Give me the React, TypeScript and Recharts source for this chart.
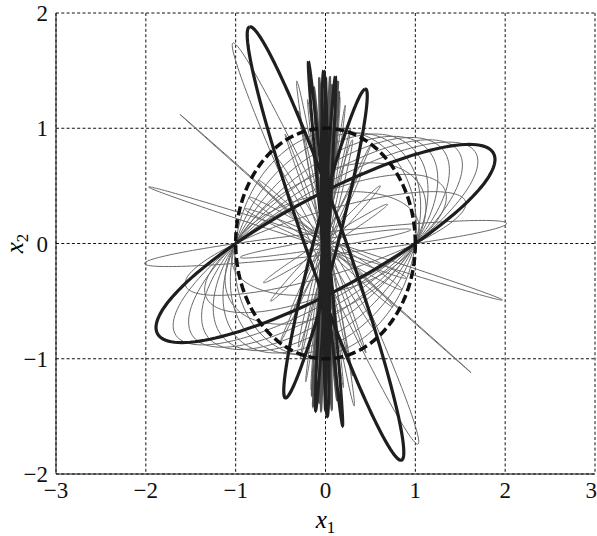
import { LineChart, Line, XAxis, YAxis, CartesianGrid, Label } from "recharts";

const xTicks = [-3, -2, -1, 0, 1, 2, 3];
const yTicks = [-2, -1, 0, 1, 2];

// every orbit is a centred ellipse: [px, py, qx, qy] = two conjugate half-diameters
const initialSet = [[1, 0, 0, 1]];

const thickOrbits = [
    [1, 0, 1.6, 0.86],
    [-0.846, 1.88, 0.21, 0.057],
    [0.44, 1.34, 0.15, 0.035],
];

const darkSpikes = [
    [-0.19, 1.58, 0.03, 0],
    [-0.02, 1.5, 0.04, 0],
    [0.11, 1.45, 0.03, 0],
    [0.0, 1.44, 0.015, 0],
];

const graySpikes = [
    [0.07, 1.38, 0.025, 0],
    [-0.07, 1.44, 0.02, 0],
    [0.15, 1.32, 0.025, 0],
    [-0.13, 1.36, 0.025, 0],
    [0.0, 1.25, 0.04, 0],
    [0.14, 1.41, 0.015, 0],
    [0.05, 1.45, 0.015, 0],
];

const fanOrbits = [
    [1, 0, 0.15, 0.98],
    [1, 0, 0.35, 0.96],
    [1, 0, 0.55, 0.95],
    [1, 0, 0.75, 0.93],
    [1, 0, 0.95, 0.92],
    [1, 0, 1.15, 0.9],
    [1, 0, 1.37, 0.88],
    [1, 0, 0.9, 0.6],
    [1, 0, 0.5, 0.7],
    [1, 0, 1.2, 0.45],
    [1, 0, 0.3, 0.45],
];

const thinSpikes = [
    [-1.03, 1.74, 0.13, 0.05],
    [-1.62, 1.12, 0.034, -0.03],
    [-1.97, 0.49, 0.015, -0.038],
    [1, 0, 1.75, 0.2],
    [-0.32, 1.41, 0.04, 0.01],
    [0.16, 1.27, 0.03, 0],
];

const spokes = [
    [0.69, 0.34, 0.02, -0.03],
    [0.61, 0.5, 0.02, -0.03],
    [0.4, 0.62, 0.03, -0.02],
    [-0.75, 0.55, 0.02, 0.03],
    [-0.55, 0.75, 0.03, 0.02],
    [-0.9, 0.3, 0.01, 0.04],
    [0.85, -0.4, 0.02, 0.04],
    [0.95, 0.12, 0.0, 0.04],
    [0.3, 0.9, 0.04, 0],
    [-0.3, 1.15, 0.02, 0],
    [0.28, 1.0, 0.02, 0],
    [-0.45, 0.95, 0.02, 0.01],
    [0.5, 0.85, 0.02, -0.01],
    [-0.2, 1.25, 0.02, 0],
    [0.22, 1.2, 0.02, 0],
];

const STEPS = 144;

const trace = (e: number[]) =>
    Array.from({ length: STEPS + 1 }, (_, i) => {
        const t = (i / STEPS) * Math.PI * 2;
        return { x: e[0] * Math.cos(t) + e[2] * Math.sin(t), y: e[1] * Math.cos(t) + e[3] * Math.sin(t) };
    });

const minus = (v: number) => (v < 0 ? `\u2212${-v}` : `${v}`);

const SERIF = "'Liberation Serif', 'Times New Roman', Times, Tinos, serif";
const tickFont = { fontFamily: SERIF, fontSize: 23, fill: "#111" };

const groups = [
    { name: "fan", list: fanOrbits, stroke: "#6a6a6a", width: 1, dash: undefined },
    { name: "spoke", list: spokes, stroke: "#6a6a6a", width: 1, dash: undefined },
    { name: "thin", list: thinSpikes, stroke: "#6a6a6a", width: 1, dash: undefined },
    { name: "gray", list: graySpikes, stroke: "#555", width: 2, dash: undefined },
    { name: "thick", list: thickOrbits, stroke: "#1e1e1e", width: 3.2, dash: undefined },
    { name: "dark", list: darkSpikes, stroke: "#222", width: 3, dash: undefined },
    { name: "init", list: initialSet, stroke: "#111", width: 3.5, dash: "9 4" },
];

export default function App() {
    return (
        <div style={{ position: "absolute", left: 0, top: 0, width: 597, height: 536, background: "#fff" }}>
            <LineChart width={597} height={536} margin={{ top: 13, right: 2, left: 0, bottom: 0 }}>
                <CartesianGrid stroke="#111" strokeDasharray="3 2.3" />
                <XAxis
                    type="number"
                    dataKey="x"
                    domain={[-3, 3]}
                    ticks={xTicks}
                    allowDataOverflow
                    tickFormatter={minus}
                    tickLine={false}
                    axisLine={{ stroke: "#111" }}
                    tick={tickFont}
                    height={62}
                >
                    <Label
                        content={({ viewBox }: any) => (
                            <text
                                x={viewBox.x + viewBox.width / 2}
                                y={viewBox.y + 54}
                                textAnchor="middle"
                                style={{ fontFamily: SERIF, fontSize: 25, fontStyle: "italic" }}
                            >
                                x<tspan style={{ fontSize: 17, fontStyle: "normal" }} dy={5}>1</tspan>
                            </text>
                        )}
                    />
                </XAxis>
                <YAxis
                    type="number"
                    dataKey="y"
                    domain={[-2, 2]}
                    ticks={yTicks}
                    allowDataOverflow
                    tickFormatter={minus}
                    tickLine={false}
                    axisLine={{ stroke: "#111" }}
                    tick={tickFont}
                    width={56}
                >
                    <Label
                        content={({ viewBox }: any) => {
                            const cx = viewBox.x + 23;
                            const cy = viewBox.y + viewBox.height / 2;
                            return (
                                <text
                                    x={cx}
                                    y={cy}
                                    transform={`rotate(-90 ${cx} ${cy})`}
                                    textAnchor="middle"
                                    style={{ fontFamily: SERIF, fontSize: 25, fontStyle: "italic" }}
                                >
                                    x<tspan style={{ fontSize: 17, fontStyle: "normal" }} dy={5}>2</tspan>
                                </text>
                            );
                        }}
                    />
                </YAxis>
                {groups.flatMap((g) =>
                    g.list.map((e, i) => (
                        <Line
                            key={`${g.name}-${i}`}
                            data={trace(e)}
                            dataKey="y"
                            type="linear"
                            stroke={g.stroke}
                            strokeWidth={g.width}
                            strokeDasharray={g.dash}
                            dot={false}
                            activeDot={false}
                            isAnimationActive={false}
                        />
                    ))
                )}
            </LineChart>
        </div>
    );
}
